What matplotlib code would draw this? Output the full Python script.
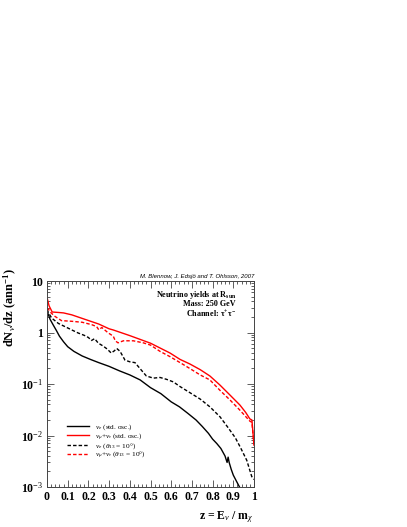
import math
import matplotlib
matplotlib.use("Agg")
import matplotlib.pyplot as plt
from matplotlib.ticker import MultipleLocator, LogLocator, FuncFormatter, NullFormatter

plt.rcParams['font.family'] = 'Liberation Serif'
plt.rcParams['mathtext.fontset'] = 'custom'
plt.rcParams['mathtext.rm'] = 'Liberation Serif'
plt.rcParams['mathtext.it'] = 'Liberation Serif:italic'
plt.rcParams['mathtext.bf'] = 'Liberation Serif:bold'

# nu_e, standard oscillations (black solid)
z_e = [0.0, 0.005, 0.015, 0.03, 0.045, 0.06, 0.08, 0.10, 0.13, 0.17, 0.21, 0.25, 0.30, 0.35,
       0.40, 0.45, 0.50, 0.55, 0.60, 0.64, 0.68, 0.72, 0.75, 0.78, 0.80, 0.82, 0.84, 0.86,
       0.87, 0.875, 0.88, 0.89, 0.90, 0.915, 0.93, 0.945]
v_e = [3.0, 2.3, 1.8, 1.4, 1.1, 0.85, 0.66, 0.53, 0.43, 0.35, 0.30, 0.26, 0.22, 0.18,
       0.15, 0.12, 0.085, 0.065, 0.045, 0.036, 0.027, 0.020, 0.015, 0.011, 0.0085, 0.0070,
       0.0056, 0.0040, 0.0030, 0.0038, 0.0030, 0.0022, 0.0017, 0.0013, 0.0010, 0.0007]

# nu_mu + nu_tau, standard oscillations (red solid)
z_mt = [0.0, 0.01, 0.025, 0.055, 0.08, 0.12, 0.18, 0.25, 0.30, 0.32, 0.40, 0.50, 0.594,
        0.643, 0.69, 0.74, 0.787, 0.836, 0.884, 0.932, 0.96, 0.98, 0.99, 1.0]
v_mt = [4.8, 3.3, 2.5, 2.45, 2.4, 2.2, 1.82, 1.46, 1.18, 1.12, 0.87, 0.62, 0.40,
        0.30, 0.245, 0.19, 0.143, 0.095, 0.061, 0.039, 0.028, 0.021, 0.020, 0.0065]

# nu_e, theta13 = 10 deg (black dashed)
z_e13 = [0.0, 0.005, 0.023, 0.055, 0.087, 0.12, 0.15, 0.18, 0.20, 0.215, 0.23, 0.248, 0.27,
         0.29, 0.31, 0.325, 0.337, 0.353, 0.377, 0.40, 0.425, 0.449, 0.48, 0.514, 0.546,
         0.578, 0.61, 0.643, 0.69, 0.74, 0.787, 0.836, 0.876, 0.91, 0.935, 0.965, 0.989, 1.0]
v_e13 = [2.8, 2.5, 1.9, 1.5, 1.3, 1.12, 0.98, 0.88, 0.80, 0.70, 0.76, 0.62, 0.55,
         0.48, 0.40, 0.44, 0.49, 0.43, 0.29, 0.27, 0.26, 0.20, 0.143, 0.13, 0.134,
         0.123, 0.11, 0.089, 0.068, 0.051, 0.036, 0.023, 0.014, 0.009, 0.0058, 0.0033, 0.0016, 0.0014]

# nu_mu + nu_tau, theta13 = 10 deg (red dashed)
z_mt13 = [0.0, 0.005, 0.02, 0.039, 0.07, 0.12, 0.17, 0.216, 0.24, 0.25, 0.265, 0.296, 0.32,
          0.33, 0.343, 0.369, 0.417, 0.465, 0.50, 0.546, 0.594, 0.643, 0.69, 0.74, 0.787,
          0.836, 0.884, 0.932, 0.98, 0.99, 1.0]
v_mt13 = [3.0, 2.9, 2.4, 2.05, 1.7, 1.65, 1.58, 1.42, 1.3, 1.13, 1.25, 0.98, 0.85,
          0.69, 0.63, 0.69, 0.69, 0.63, 0.57, 0.43, 0.34, 0.26, 0.20, 0.15, 0.12,
          0.075, 0.049, 0.031, 0.019, 0.018, 0.0065]

labels = [r"$\nu_e$ (std. osc.)",
          r"$\nu_\mu$+$\nu_\tau$ (std. osc.)",
          r"$\nu_e$ ($\theta_{13}$ = 10°)",
          r"$\nu_\mu$+$\nu_\tau$ ($\theta_{13}$ = 10°)"]

fig = plt.figure(figsize=(4.07, 5.27), dpi=100)
ax = fig.add_axes([47 / 407, 40 / 527, 207 / 407, 206 / 527])

dash = (2.5, 1.5)
ax.plot(z_e, v_e, color='black', lw=1.0, label=labels[0])
ax.plot(z_mt, v_mt, color='red', lw=1.0, label=labels[1])
ax.plot(z_e13, v_e13, color='black', lw=1.0, dashes=dash, label=labels[2])
ax.plot(z_mt13, v_mt13, color='red', lw=1.0, dashes=dash, label=labels[3])

ax.set_yscale('log')
ax.set_xlim(0, 1)
ax.set_ylim(1e-3, 10)

ax.xaxis.set_major_locator(MultipleLocator(0.1))
ax.xaxis.set_minor_locator(MultipleLocator(0.02))
ax.xaxis.set_major_formatter(FuncFormatter(lambda v, p: "%g" % round(v, 1)))
ax.yaxis.set_major_locator(LogLocator(base=10, numticks=10))
ax.yaxis.set_minor_locator(LogLocator(base=10, subs=range(2, 10), numticks=20))
ax.yaxis.set_minor_formatter(NullFormatter())


def ylab(v, p):
    if v >= 9.9:
        return "10"
    if 0.99 < v < 1.01:
        return "1"
    return "10$^{%d}$" % int(round(math.log10(v)))


ax.yaxis.set_major_formatter(FuncFormatter(ylab))

ax.tick_params(which='both', direction='in', top=True, right=True, width=0.6, color='#444444')
ax.tick_params(which='major', length=5, labelsize=8.5, pad=3)
ax.tick_params(which='minor', length=2.5)
for t in ax.get_xticklabels() + ax.get_yticklabels():
    t.set_fontweight('bold')
for s in ax.spines.values():
    s.set_linewidth(0.7)
    s.set_color('#444444')

leg = ax.legend(loc='upper left', bbox_to_anchor=(0.095, 0.315), frameon=False, fontsize=5.3,
                handlelength=3.1, handletextpad=0.8, labelspacing=-0.12, borderpad=0,
                borderaxespad=0)

fig.text(254 / 407, 1 - 278 / 527, "M. Blennow, J. Edsjö and T. Ohlsson, 2007",
         family='Liberation Sans', style='italic', fontsize=4.3, ha='right', va='baseline')
fig.text(236 / 407, 1 - 295 / 527, "Neutrino yields at R$_{\\mathbf{sun}}$", fontweight='bold',
         fontsize=5.9, ha='right', va='center')
fig.text(236 / 407, 1 - 304.5 / 527, "Mass: 250 GeV", fontweight='bold',
         fontsize=5.9, ha='right', va='center')
fig.text(236 / 407, 1 - 314 / 527, "Channel: τ$^{\\mathbf{+}}$τ$^{\\mathbf{-}}$", fontweight='bold',
         fontsize=5.9, ha='right', va='center')

fig.text(10 / 407, 1 - 268 / 527, "dN$_{\\nu}$/dz (ann$^{\\mathbf{-1}}$)", rotation=90,
         fontweight='bold', fontsize=9, ha='center', va='top')
fig.text(254 / 407, 1 - 517 / 527, "z = E$_{\\nu}$ / m$_{\\chi}$", fontweight='bold',
         fontsize=8.5, ha='right', va='center')

fig.savefig("out.png", dpi=100)
